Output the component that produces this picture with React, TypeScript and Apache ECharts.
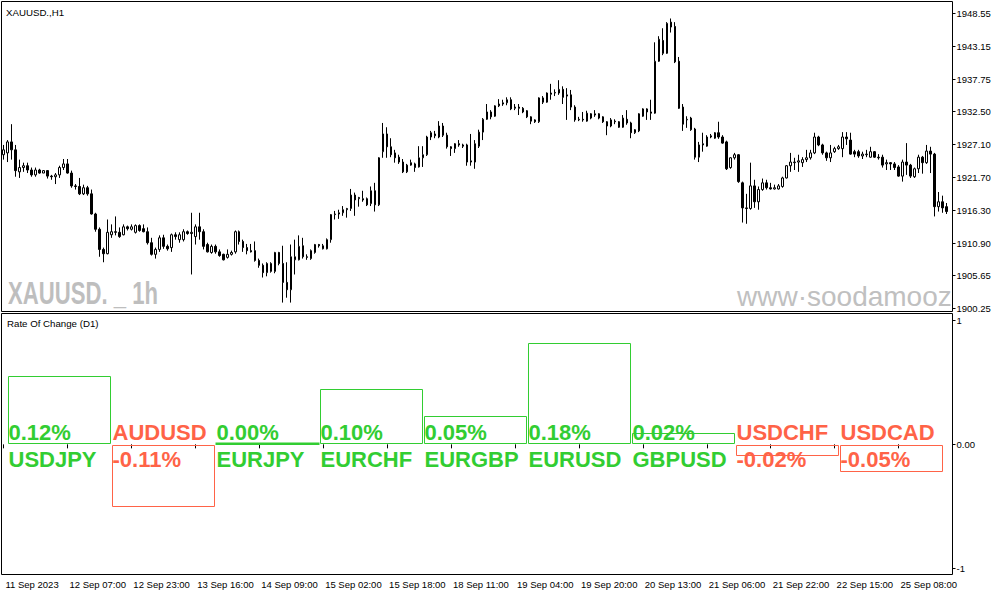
import React, { useEffect, useRef } from "react";
import * as echarts from "echarts";

// ---- Price pane data (XAUUSD H1) ----
const opens = [
  1925.4, 1925.7, 1927.5, 1926.2, 1922.6, 1923.3, 1923.6, 1922.9, 1922.1, 1922.9,
  1922.4, 1922.8, 1921.9, 1921.8, 1922.1, 1923.3, 1923.9, 1922.4, 1920.3, 1920.2,
  1919.0, 1920.0, 1919.0, 1915.7, 1913.2, 1909.9, 1909.2, 1912.3, 1912.8, 1912.7,
  1912.3, 1913.6, 1913.2, 1912.7, 1913.8, 1913.3, 1912.8, 1911.0, 1909.1, 1909.9,
  1911.8, 1910.4, 1910.2, 1912.3, 1911.5, 1911.5, 1912.8, 1912.5, 1912.0, 1913.6,
  1912.8, 1910.7, 1909.4, 1910.4, 1909.5, 1909.1, 1908.6, 1909.1, 1909.5, 1912.8,
  1911.2, 1910.2, 1909.7, 1909.7, 1908.1, 1907.3, 1906.1, 1906.3, 1906.3, 1909.4,
  1907.6, 1904.5, 1903.3, 1908.2, 1908.2, 1910.5, 1908.7, 1908.4, 1909.4, 1910.7,
  1910.0, 1910.0, 1911.5, 1915.6, 1915.7, 1915.9, 1916.4, 1916.6, 1918.8, 1918.2,
  1918.2, 1918.2, 1917.4, 1919.5, 1917.2, 1925.9, 1928.8, 1926.7, 1925.7, 1925.0,
  1924.2, 1922.6, 1923.7, 1923.9, 1923.4, 1924.9, 1925.4, 1928.3, 1928.8, 1928.3,
  1930.1, 1928.6, 1926.7, 1926.4, 1927.2, 1927.0, 1927.0, 1924.2, 1924.2, 1926.8,
  1929.1, 1931.2, 1932.4, 1931.7, 1933.4, 1933.7, 1933.9, 1934.4, 1933.0, 1933.2,
  1933.0, 1932.6, 1931.6, 1931.1, 1930.8, 1934.7, 1934.0, 1935.5, 1935.5, 1935.5,
  1936.1, 1935.0, 1935.2, 1933.2, 1931.1, 1931.2, 1930.9, 1932.1, 1931.9, 1932.1,
  1931.6, 1930.8, 1930.1, 1930.9, 1930.8, 1929.9, 1931.2, 1930.6, 1929.0, 1929.3,
  1931.7, 1932.9, 1932.4, 1932.2, 1940.7, 1944.1, 1942.0, 1947.1, 1946.4, 1940.7,
  1933.2, 1931.1, 1931.4, 1929.6, 1925.0, 1927.0, 1926.8, 1928.3, 1928.1, 1929.0,
  1928.3, 1927.5, 1923.3, 1924.9, 1925.4, 1920.8, 1916.7, 1916.6, 1920.3, 1917.7,
  1919.7, 1920.8, 1920.0, 1919.8, 1919.8, 1920.2, 1921.6, 1923.6, 1924.1, 1924.2,
  1924.1, 1924.6, 1924.9, 1925.7, 1928.3, 1927.0, 1925.7, 1924.9, 1925.9, 1926.4,
  1926.4, 1928.3, 1927.8, 1925.9, 1925.9, 1925.2, 1925.4, 1925.0, 1925.9, 1925.0,
  1925.0, 1923.9, 1924.1, 1923.9, 1923.4, 1921.9, 1924.2, 1923.7, 1921.8, 1923.1,
  1925.0, 1924.1, 1926.0, 1925.5, 1916.9, 1917.7, 1916.9,
];
const closes = [
  1926.2, 1927.5, 1926.2, 1922.8, 1923.3, 1923.6, 1922.9, 1922.1, 1922.9, 1922.4,
  1922.8, 1921.9, 1921.8, 1922.1, 1923.3, 1923.9, 1922.4, 1920.3, 1920.2, 1919.0,
  1920.0, 1919.0, 1915.7, 1913.2, 1909.9, 1909.2, 1912.7, 1912.8, 1912.7, 1912.0,
  1913.6, 1913.3, 1913.6, 1913.8, 1913.0, 1912.8, 1911.0, 1909.1, 1909.9, 1911.8,
  1910.4, 1910.0, 1912.3, 1912.0, 1912.3, 1912.8, 1912.5, 1912.7, 1913.6, 1912.8,
  1910.4, 1909.5, 1910.4, 1909.5, 1908.9, 1908.2, 1909.1, 1909.4, 1912.8, 1911.2,
  1910.2, 1909.7, 1909.5, 1908.1, 1907.3, 1906.1, 1907.6, 1907.6, 1909.4, 1907.6,
  1904.5, 1903.3, 1908.7, 1908.7, 1910.4, 1908.7, 1908.6, 1909.7, 1910.7, 1910.5,
  1910.5, 1911.5, 1915.6, 1915.7, 1915.9, 1916.4, 1916.6, 1918.8, 1918.0, 1918.4,
  1918.0, 1917.2, 1919.5, 1917.2, 1924.9, 1928.8, 1926.7, 1925.4, 1924.9, 1924.2,
  1922.6, 1923.7, 1924.1, 1923.3, 1924.9, 1925.4, 1928.3, 1929.0, 1928.5, 1930.1,
  1928.6, 1926.7, 1926.4, 1927.2, 1927.0, 1926.8, 1924.2, 1924.4, 1927.2, 1929.1,
  1931.2, 1932.4, 1931.6, 1933.4, 1933.7, 1933.9, 1934.4, 1932.9, 1933.2, 1933.0,
  1932.4, 1931.6, 1930.9, 1930.8, 1934.7, 1934.0, 1935.5, 1935.3, 1935.6, 1936.1,
  1934.8, 1935.2, 1933.2, 1931.1, 1931.2, 1931.1, 1932.2, 1931.4, 1932.1, 1931.4,
  1930.8, 1930.1, 1931.1, 1930.8, 1929.9, 1931.4, 1930.6, 1929.0, 1929.5, 1932.1,
  1932.9, 1932.4, 1932.2, 1940.7, 1944.3, 1942.0, 1946.9, 1946.3, 1940.6, 1933.0,
  1930.4, 1931.2, 1929.5, 1925.0, 1927.0, 1927.2, 1928.3, 1928.5, 1929.0, 1928.3,
  1927.3, 1923.1, 1924.9, 1925.4, 1921.0, 1916.7, 1916.6, 1920.3, 1917.7, 1919.7,
  1920.8, 1920.0, 1919.8, 1920.0, 1920.3, 1921.6, 1923.6, 1924.2, 1924.2, 1924.4,
  1924.6, 1924.9, 1925.7, 1928.3, 1927.0, 1925.7, 1924.9, 1925.7, 1926.4, 1926.7,
  1928.3, 1928.0, 1925.5, 1925.5, 1925.2, 1925.5, 1925.5, 1925.9, 1925.0, 1924.9,
  1923.7, 1924.1, 1923.9, 1923.3, 1921.9, 1924.2, 1923.7, 1921.9, 1923.1, 1925.0,
  1924.1, 1926.0, 1925.5, 1916.9, 1917.7, 1916.7, 1916.1,
];
const highs = [
  1927.0, 1927.8, 1930.4, 1927.0, 1924.6, 1924.1, 1924.1, 1923.3, 1923.3, 1923.1,
  1922.9, 1922.9, 1922.1, 1922.4, 1923.6, 1924.7, 1924.7, 1922.8, 1920.6, 1921.6,
  1920.5, 1920.3, 1919.7, 1915.9, 1913.5, 1910.2, 1914.8, 1914.0, 1915.3, 1913.5,
  1914.0, 1913.8, 1914.0, 1914.0, 1914.0, 1914.0, 1913.5, 1911.8, 1910.2, 1912.2,
  1912.3, 1910.7, 1912.5, 1912.7, 1912.7, 1913.2, 1913.0, 1915.9, 1914.0, 1915.9,
  1913.2, 1911.0, 1910.7, 1910.7, 1909.9, 1909.2, 1909.9, 1909.7, 1913.0, 1913.0,
  1911.5, 1910.8, 1910.8, 1911.2, 1908.4, 1907.6, 1907.8, 1907.8, 1909.5, 1909.5,
  1910.5, 1907.8, 1910.7, 1911.5, 1912.2, 1911.8, 1909.1, 1909.9, 1910.8, 1910.8,
  1910.8, 1911.7, 1915.7, 1916.2, 1916.4, 1917.0, 1916.7, 1919.8, 1919.2, 1918.5,
  1919.5, 1918.4, 1920.2, 1920.8, 1925.0, 1930.6, 1929.9, 1928.1, 1926.2, 1925.4,
  1924.7, 1923.9, 1924.6, 1924.1, 1926.8, 1926.8, 1928.5, 1929.3, 1929.3, 1930.9,
  1930.6, 1929.0, 1926.8, 1927.3, 1927.8, 1927.2, 1927.2, 1928.8, 1927.8, 1929.5,
  1931.4, 1933.7, 1932.7, 1933.5, 1934.5, 1934.4, 1934.8, 1934.8, 1933.7, 1933.7,
  1933.2, 1932.7, 1931.7, 1931.2, 1934.8, 1935.0, 1935.6, 1937.0, 1936.1, 1937.6,
  1936.6, 1936.3, 1936.0, 1933.5, 1931.6, 1932.4, 1932.6, 1932.2, 1932.7, 1932.2,
  1931.7, 1930.9, 1931.4, 1931.2, 1930.9, 1931.9, 1932.7, 1930.8, 1929.6, 1932.2,
  1933.0, 1933.0, 1934.4, 1943.8, 1944.8, 1946.1, 1947.1, 1947.7, 1947.1, 1941.4,
  1933.7, 1931.7, 1931.6, 1929.8, 1927.5, 1929.0, 1928.6, 1928.8, 1929.1, 1930.8,
  1928.6, 1927.7, 1925.0, 1925.7, 1925.5, 1921.0, 1919.0, 1924.1, 1921.3, 1920.2,
  1921.5, 1921.3, 1920.8, 1920.5, 1920.6, 1921.8, 1923.7, 1925.7, 1924.9, 1925.4,
  1925.0, 1926.2, 1926.2, 1929.0, 1928.5, 1927.2, 1925.9, 1927.0, 1926.7, 1927.0,
  1929.1, 1929.1, 1929.0, 1926.2, 1926.2, 1925.9, 1926.2, 1926.7, 1926.0, 1925.5,
  1925.4, 1924.6, 1924.2, 1924.2, 1923.7, 1924.6, 1927.3, 1923.9, 1923.3, 1925.4,
  1925.2, 1927.0, 1926.7, 1925.7, 1919.3, 1918.7, 1917.5,
];
const lows = [
  1924.6, 1924.2, 1924.6, 1921.8, 1921.6, 1922.6, 1922.4, 1921.8, 1921.8, 1922.3,
  1922.4, 1921.5, 1921.3, 1920.6, 1921.6, 1922.9, 1922.3, 1920.0, 1919.7, 1918.8,
  1918.8, 1918.7, 1915.6, 1912.8, 1908.7, 1907.8, 1909.1, 1911.8, 1912.2, 1911.8,
  1912.2, 1913.0, 1913.0, 1912.5, 1912.8, 1912.7, 1910.7, 1908.9, 1908.4, 1909.5,
  1910.0, 1909.7, 1909.5, 1911.5, 1911.0, 1911.2, 1912.3, 1905.8, 1910.7, 1911.5,
  1909.9, 1909.4, 1909.2, 1909.2, 1908.7, 1908.1, 1908.4, 1908.9, 1909.2, 1910.7,
  1909.5, 1909.1, 1909.4, 1907.9, 1906.9, 1905.3, 1905.5, 1906.1, 1906.0, 1907.3,
  1901.2, 1902.0, 1901.2, 1905.8, 1908.1, 1908.4, 1908.2, 1908.2, 1909.2, 1910.2,
  1909.9, 1909.9, 1911.0, 1914.8, 1914.9, 1915.4, 1915.1, 1916.2, 1915.4, 1916.9,
  1917.7, 1917.0, 1917.0, 1916.1, 1917.0, 1924.9, 1924.9, 1925.0, 1924.1, 1923.9,
  1922.4, 1922.4, 1923.6, 1922.6, 1923.3, 1923.4, 1925.2, 1927.8, 1928.1, 1928.1,
  1928.3, 1926.4, 1925.2, 1925.7, 1926.7, 1926.5, 1923.6, 1923.6, 1923.1, 1926.5,
  1927.8, 1931.1, 1931.2, 1931.6, 1933.2, 1933.4, 1933.5, 1932.7, 1932.7, 1931.9,
  1932.2, 1931.4, 1930.4, 1930.6, 1930.6, 1933.7, 1933.9, 1934.4, 1935.0, 1935.2,
  1933.7, 1931.1, 1932.7, 1930.8, 1930.9, 1930.8, 1930.8, 1931.2, 1931.6, 1931.2,
  1930.6, 1928.6, 1929.9, 1930.4, 1929.8, 1929.8, 1930.3, 1928.1, 1928.8, 1929.1,
  1931.6, 1931.1, 1931.1, 1932.1, 1940.6, 1941.7, 1941.9, 1945.4, 1940.4, 1932.9,
  1929.3, 1929.8, 1929.3, 1924.6, 1924.2, 1925.9, 1926.7, 1928.1, 1928.0, 1928.0,
  1927.2, 1922.9, 1923.1, 1924.6, 1920.8, 1914.3, 1914.1, 1916.4, 1916.7, 1916.4,
  1919.5, 1919.7, 1919.7, 1919.7, 1919.7, 1920.0, 1921.5, 1922.6, 1922.9, 1922.6,
  1923.4, 1924.2, 1924.6, 1925.5, 1926.8, 1925.4, 1924.4, 1924.2, 1925.7, 1926.2,
  1925.0, 1927.0, 1925.4, 1925.0, 1924.9, 1924.7, 1925.0, 1924.9, 1924.9, 1924.6,
  1923.3, 1922.9, 1922.9, 1922.9, 1921.8, 1921.0, 1922.1, 1921.6, 1921.6, 1922.4,
  1922.3, 1923.9, 1922.4, 1915.3, 1916.1, 1915.9, 1915.7,
];

const priceTicks = [1900.25, 1905.65, 1910.9, 1916.3, 1921.7, 1927.1, 1932.5, 1937.75, 1943.15, 1948.55];
const firstBarLabel = "11 Sep 2023";

// ---- Rate Of Change (D1) pane ----
const rocPairs = ["USDJPY", "AUDUSD", "EURJPY", "EURCHF", "EURGBP", "EURUSD", "GBPUSD", "USDCHF", "USDCAD"];
const rocPercent = [0.12, -0.11, 0.0, 0.1, 0.05, 0.18, 0.02, -0.02, -0.05];
const rocLevels = [0.54, -0.49, 0.0, 0.44, 0.22, 0.81, 0.08, -0.08, -0.21];
const rocTicks = [-1, 0, 1];

const MONTHS = ["Jan", "Feb", "Mar", "Apr", "May", "Jun", "Jul", "Aug", "Sep", "Oct", "Nov", "Dec"];

function buildTimes(count: number): string[] {
  const out: string[] = [];
  let t = Date.UTC(2023, 8, 11, 14);
  const H = 3600000;
  for (let i = 0; i < count; i++) {
    const d = new Date(t);
    const hh = String(d.getUTCHours()).padStart(2, "0");
    out.push(`${d.getUTCDate()} ${MONTHS[d.getUTCMonth()]} ${hh}:00`);
    t += H;
    let nd = new Date(t);
    while (nd.getUTCHours() === 0 || nd.getUTCDay() === 0 || nd.getUTCDay() === 6) {
      t += H;
      nd = new Date(t);
    }
  }
  return out;
}

const FONT = '"Liberation Sans", Arial, sans-serif';
const GREEN = "#32CD32";
const RED = "#FF6347";

export default function App() {
  const ref = useRef<HTMLDivElement>(null);

  useEffect(() => {
    document.body.style.margin = "0";
    if (!ref.current) return;
    const chart = echarts.init(ref.current, undefined, { renderer: "svg" });

    const times = buildTimes(opens.length + 1);
    const candles = opens.map((o, i) => [
      o,
      closes[i],
      Math.min(lows[i], o, closes[i]),
      Math.max(highs[i], o, closes[i]),
    ]);
    const rocData = rocPairs.map((_, i) => [i, rocLevels[i], rocPercent[i]]);

    const rocMax = 1.0523;
    const rocMin = -1.0466;

    const renderRoc = (params: any, api: any) => {
      const i = api.value(0);
      const lvl = api.value(1);
      const pct = api.value(2);
      const zero = api.coord([i, 0]);
      const end = api.coord([i, lvl]);
      const size = api.size([1, 0])[0];
      const left = Math.round(zero[0] - size / 2);
      const zy = zero[1];
      const positive = pct >= 0;
      const color = positive ? GREEN : RED;
      const font = `bold 22px ${FONT}`;
      const upperY = zy - 11.5;
      const lowerY = zy + 15.5;
      const pctText = (pct >= 0 ? "" : "-") + Math.abs(pct).toFixed(2) + "%";
      let rectY: number;
      let rectH: number;
      if (positive) {
        const bottom = Math.round(zy) - 0.5;
        const top = Math.round(end[1] - 1) + 0.5;
        rectY = top;
        rectH = Math.max(bottom - top, 0.5);
      } else {
        const top = Math.round(zy) + 1.5;
        const bottom = Math.round(end[1] + 1) + 0.5;
        rectY = top;
        rectH = bottom - top;
      }
      return {
        type: "group",
        children: [
          {
            type: "text",
            x: left + 0.5,
            y: upperY,
            style: { text: positive ? pctText : rocPairs[i], fill: color, font, align: "left", verticalAlign: "middle" },
          },
          {
            type: "text",
            x: left + 0.5,
            y: lowerY,
            style: { text: positive ? rocPairs[i] : pctText, fill: color, font, align: "left", verticalAlign: "middle" },
          },
          {
            type: "rect",
            shape: { x: left + 0.5, y: rectY, width: 102, height: rectH },
            style: { fill: "none", stroke: color, lineWidth: positive && lvl === 0 ? 2 : 1 },
          },
        ],
      };
    };

    const smallLabel = { color: "#000", fontSize: 9.5, fontFamily: FONT };

    const option: any = {
      animation: false,
      backgroundColor: "#ffffff",
      grid: [
        { left: 1.5, top: 1.5, width: 951, height: 310, show: true, borderColor: "#000", borderWidth: 1 },
        { left: 1.5, top: 313.5, width: 951, height: 261, show: true, borderColor: "#000", borderWidth: 1 },
        { left: 8, top: 313.5, width: 936, height: 261, show: false },
      ],
      xAxis: [
        { type: "category", gridIndex: 0, data: times, boundaryGap: true, show: false },
        {
          type: "category",
          gridIndex: 1,
          data: times,
          boundaryGap: true,
          axisLine: { show: false },
          splitLine: { show: false },
          axisTick: { show: true, interval: 15, alignWithLabel: true, length: 4, lineStyle: { color: "#000" } },
          axisLabel: {
            ...smallLabel,
            interval: 15,
            align: "left",
            margin: 5,
            padding: [0, 0, 0, 2],
            formatter: (v: string, idx: number) => (idx === 0 ? firstBarLabel : v),
          },
        },
        { type: "category", gridIndex: 2, data: rocPairs, show: false },
      ],
      yAxis: [
        {
          type: "value",
          gridIndex: 0,
          position: "right",
          min: 1899.74,
          max: 1950.48,
          scale: true,
          splitLine: { show: false },
          axisLine: { show: false },
          axisTick: { show: true, length: 3, customValues: priceTicks, lineStyle: { color: "#000" } },
          axisLabel: { ...smallLabel, margin: 4, customValues: priceTicks, formatter: (v: number) => v.toFixed(2) },
        },
        {
          type: "value",
          gridIndex: 1,
          position: "right",
          min: rocMin,
          max: rocMax,
          splitLine: { show: false },
          axisLine: { show: false },
          axisTick: { show: true, length: 3, customValues: rocTicks, lineStyle: { color: "#000" } },
          axisLabel: {
            ...smallLabel,
            margin: 4,
            customValues: rocTicks,
            formatter: (v: number) => (v === 0 ? "0.00" : String(v)),
          },
        },
        { type: "value", gridIndex: 2, min: rocMin, max: rocMax, show: false },
      ],
      series: [
        {
          type: "candlestick",
          xAxisIndex: 0,
          yAxisIndex: 0,
          data: candles,
          barWidth: 2,
          itemStyle: {
            color: "#ffffff",
            color0: "#000000",
            borderColor: "#000000",
            borderColor0: "#000000",
            borderWidth: 1,
          },
        },
        {
          type: "custom",
          xAxisIndex: 2,
          yAxisIndex: 2,
          data: rocData,
          renderItem: renderRoc,
          clip: false,
        },
      ],
      graphic: [
        {
          type: "text",
          x: 6,
          y: 12.5,
          style: { text: "XAUUSD.,H1", fill: "#000", font: `9.7px ${FONT}`, align: "left", verticalAlign: "middle" },
        },
        {
          type: "text",
          x: 8,
          y: 294,
          scaleX: 0.714,
          style: { text: "XAUUSD. _ 1h", fill: "#BEBEBE", font: `bold 31px ${FONT}`, align: "left", verticalAlign: "middle" },
        },
        {
          type: "text",
          x: 737,
          y: 296.5,
          style: { text: "www·soodamooz", fill: "#C0C0C0", font: `28px ${FONT}`, align: "left", verticalAlign: "middle" },
        },
        {
          type: "text",
          x: 7,
          y: 323.5,
          style: { text: "Rate Of Change (D1)", fill: "#000", font: `9.7px ${FONT}`, align: "left", verticalAlign: "middle" },
        },
      ],
    };

    chart.setOption(option);
    return () => {
      chart.dispose();
    };
  }, []);

  return (
    <div
      ref={ref}
      style={{ position: "fixed", left: 0, top: 0, width: 997, height: 596, background: "#fff" }}
    />
  );
}
